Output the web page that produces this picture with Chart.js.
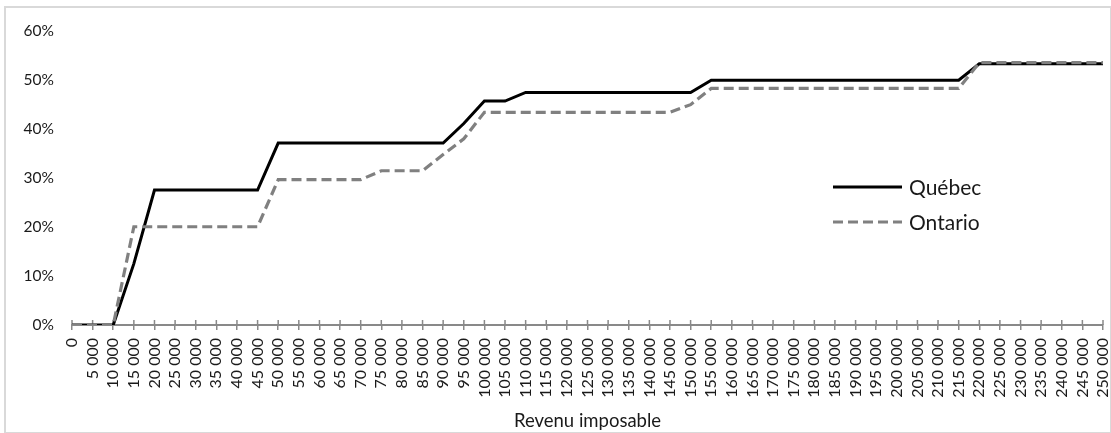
<!DOCTYPE html>
<html>
<head>
<meta charset="utf-8">
<script src="https://cdn.jsdelivr.net/npm/chart.js@4.4.1/dist/chart.umd.min.js"></script>
<style>
  html, body { margin: 0; padding: 0; background: #ffffff; }
  #wrap { position: relative; width: 1111px; height: 433px; overflow: hidden; }
  #frame { position: absolute; left: 4px; top: 6px; width: 1104px; height: 424px; border: 2px solid #d9d9d9; pointer-events: none; }
  canvas { position: absolute; left: 0; top: 0; }
</style>
</head>
<body>
<div id="wrap">
  <canvas id="c" width="1111" height="433"></canvas>
  <div id="frame"></div>
</div>
<script>
// Revenu imposable (catégories)
const revenus = [0, 5000, 10000, 15000, 20000, 25000, 30000, 35000, 40000, 45000,
  50000, 55000, 60000, 65000, 70000, 75000, 80000, 85000, 90000, 95000,
  100000, 105000, 110000, 115000, 120000, 125000, 130000, 135000, 140000, 145000,
  150000, 155000, 160000, 165000, 170000, 175000, 180000, 185000, 190000, 195000,
  200000, 205000, 210000, 215000, 220000, 225000, 230000, 235000, 240000, 245000, 250000];

// Taux marginal (%) - Québec
const quebec = [0, 0, 0, 12.53, 27.53, 27.53, 27.53, 27.53, 27.53, 27.53,
  37.12, 37.12, 37.12, 37.12, 37.12, 37.12, 37.12, 37.12, 37.12, 41.12,
  45.71, 45.71, 47.46, 47.46, 47.46, 47.46, 47.46, 47.46, 47.46, 47.46,
  47.46, 49.97, 49.97, 49.97, 49.97, 49.97, 49.97, 49.97, 49.97, 49.97,
  49.97, 49.97, 49.97, 49.97, 53.31, 53.31, 53.31, 53.31, 53.31, 53.31, 53.31];

// Taux marginal (%) - Ontario
const ontario = [0, 0, 0, 20.05, 20.05, 20.05, 20.05, 20.05, 20.05, 20.05,
  29.65, 29.65, 29.65, 29.65, 29.65, 31.48, 31.48, 31.48, 34.8, 38.0,
  43.41, 43.41, 43.41, 43.41, 43.41, 43.41, 43.41, 43.41, 43.41, 43.41,
  44.97, 48.29, 48.29, 48.29, 48.29, 48.29, 48.29, 48.29, 48.29, 48.29,
  48.29, 48.29, 48.29, 48.29, 53.53, 53.53, 53.53, 53.53, 53.53, 53.53, 53.53];

const yTicks = [0, 10, 20, 30, 40, 50, 60];
const xTitle = 'Revenu imposable';

const fmt = n => String(n).replace(/\B(?=(\d{3})+(?!\d))/g, ' ');
const labels = revenus.map(fmt);

const FONT = 'Lato, "Open Sans", sans-serif';
const AXIS_COLOR = '#898989';

const crossTicks = {
  id: 'crossTicks',
  beforeDatasetsDraw(chart) {
    const x = chart.scales.x;
    const ctx = chart.ctx;
    ctx.save();
    ctx.strokeStyle = AXIS_COLOR;
    ctx.lineWidth = 1.5;
    ctx.beginPath();
    for (let i = 0; i < x.ticks.length; i++) {
      const px = x.getPixelForTick(i);
      ctx.moveTo(px, x.top - 5);
      ctx.lineTo(px, x.top);
    }
    ctx.stroke();
    ctx.restore();
  }
};

const customLegend = {
  id: 'customLegend',
  afterDraw(chart) {
    const ctx = chart.ctx;
    const items = [chart.data.datasets[0], chart.data.datasets[1]];
    const x0 = 833, x1 = 902, tx = 909;
    const ys = [187, 222];
    ctx.save();
    items.forEach((ds, i) => {
      ctx.beginPath();
      ctx.strokeStyle = ds.borderColor;
      ctx.lineWidth = ds.borderWidth;
      ctx.setLineDash(ds.borderDash || []);
      ctx.moveTo(x0, ys[i]);
      ctx.lineTo(x1, ys[i]);
      ctx.stroke();
      ctx.setLineDash([]);
      ctx.fillStyle = '#1a1a1a';
      ctx.font = '21px ' + FONT;
      ctx.textBaseline = 'middle';
      ctx.textAlign = 'left';
      ctx.fillText(ds.label, tx, ys[i] + 1);
    });
    ctx.restore();
  }
};

new Chart(document.getElementById('c'), {
  type: 'line',
  data: {
    labels: labels,
    datasets: [
      { label: 'Québec', data: quebec, borderColor: '#000000', borderWidth: 3,
        pointRadius: 0, tension: 0, fill: false, order: 2 },
      { label: 'Ontario', data: ontario, borderColor: '#808080', borderWidth: 3.2,
        borderDash: [10, 5], pointRadius: 0, tension: 0, fill: false, order: 1 }
    ]
  },
  options: {
    responsive: false,
    animation: false,
    devicePixelRatio: 1,
    layout: { padding: { left: 0, right: 8, top: 31, bottom: 0 } },
    plugins: {
      legend: { display: false },
      tooltip: { enabled: false },
      title: { display: false }
    },
    scales: {
      x: {
        type: 'category',
        offset: false,
        grid: { display: true, drawOnChartArea: false, drawTicks: true, tickLength: 5,
                color: AXIS_COLOR, lineWidth: 1.5 },
        border: { display: true, color: AXIS_COLOR, width: 2 },
        ticks: { autoSkip: false, minRotation: 90, maxRotation: 90, padding: 8,
                 color: '#1a1a1a', font: { family: FONT, size: 16 } },
        title: { display: true, text: xTitle, color: '#1a1a1a',
                 font: { family: FONT, size: 18.5 }, padding: { top: 0, bottom: 1 } },
        afterFit(s) { s.height = 108; s.paddingLeft = 0; s.paddingRight = 0; }
      },
      y: {
        min: 0, max: 60,
        afterBuildTicks(s) { s.ticks = yTicks.map(v => ({ value: v })); },
        grid: { display: false, drawTicks: false },
        border: { display: false },
        ticks: { padding: 18, color: '#1a1a1a', font: { family: FONT, size: 15.5 },
                 callback: v => v + '%' },
        afterFit(s) { s.width = 72; s.paddingTop = 0; s.paddingBottom = 0; }
      }
    }
  },
  plugins: [crossTicks, customLegend]
});
</script>
</body>
</html>
